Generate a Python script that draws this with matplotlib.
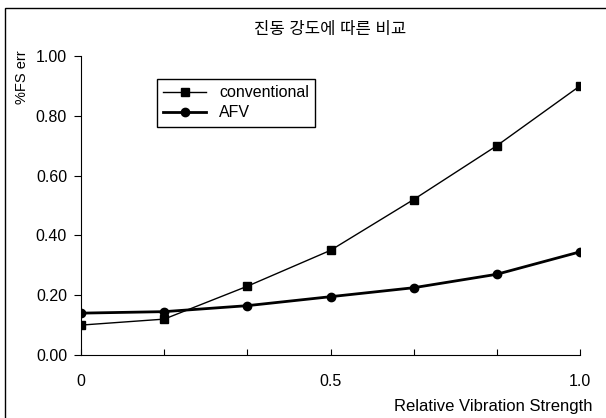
import numpy as np
import matplotlib
matplotlib.use('Agg')
import matplotlib.pyplot as plt
from matplotlib.patches import Rectangle

plt.rcParams['font.family'] = ['Liberation Sans', 'Noto Sans CJK KR']

# Relative vibration strength (x) and %FS error per method
strength = [0, 1/6, 2/6, 3/6, 4/6, 5/6, 1.0]
conventional = [0.10, 0.12, 0.23, 0.35, 0.52, 0.70, 0.90]
afv = [0.14, 0.145, 0.165, 0.195, 0.225, 0.27, 0.345]

x_labels = ['0', '', '', '0.5', '', '', '1.0']
y_ticks = [0.0, 0.2, 0.4, 0.6, 0.8, 1.0]

fig = plt.figure(figsize=(6.06, 4.18), dpi=100)
ax = fig.add_axes([81/606, 1 - 355/418, 499/606, 299/418])

ax.plot(strength, conventional, '-s', color='black', lw=1.0, ms=6, label='conventional')
ax.plot(strength, afv, '-o', color='black', lw=2.0, ms=6, label='AFV')

ax.set_xlim(0, 1)
ax.set_ylim(0, 1)
ax.set_xticks(strength)
ax.set_xticklabels(x_labels, fontsize=11.5)
ax.set_yticks(y_ticks)
ax.set_yticklabels(['%.2f' % v for v in y_ticks], fontsize=11.5)
ax.tick_params(axis='x', direction='in', length=4, pad=14)
ax.tick_params(axis='y', direction='out', length=5, pad=5)
for side in ['top', 'right']:
    ax.spines[side].set_visible(False)

ax.set_title('진동 강도에 따른 비교', fontsize=12, pad=16)

fig.text(22/606, 1 - 50/418, '%FS err', rotation=90, ha='center', va='top', fontsize=10.5)
fig.text(593/606, 1 - 406/418, 'Relative Vibration Strength', ha='right', va='center', fontsize=12)

leg = ax.legend(loc='upper left', bbox_to_anchor=(0.152, 0.923), fontsize=11.5,
                fancybox=False, edgecolor='black', framealpha=1, handlelength=2.7,
                borderaxespad=0, labelspacing=0.3)
leg.get_frame().set_linewidth(1.0)

# outer frame of the chart
fig.patches.append(Rectangle((5/606, -0.1), 1.2, 1 - 8/418 + 0.1, transform=fig.transFigure,
                             fill=False, edgecolor='black', lw=1.0))

plt.savefig('out.png', dpi=100)
